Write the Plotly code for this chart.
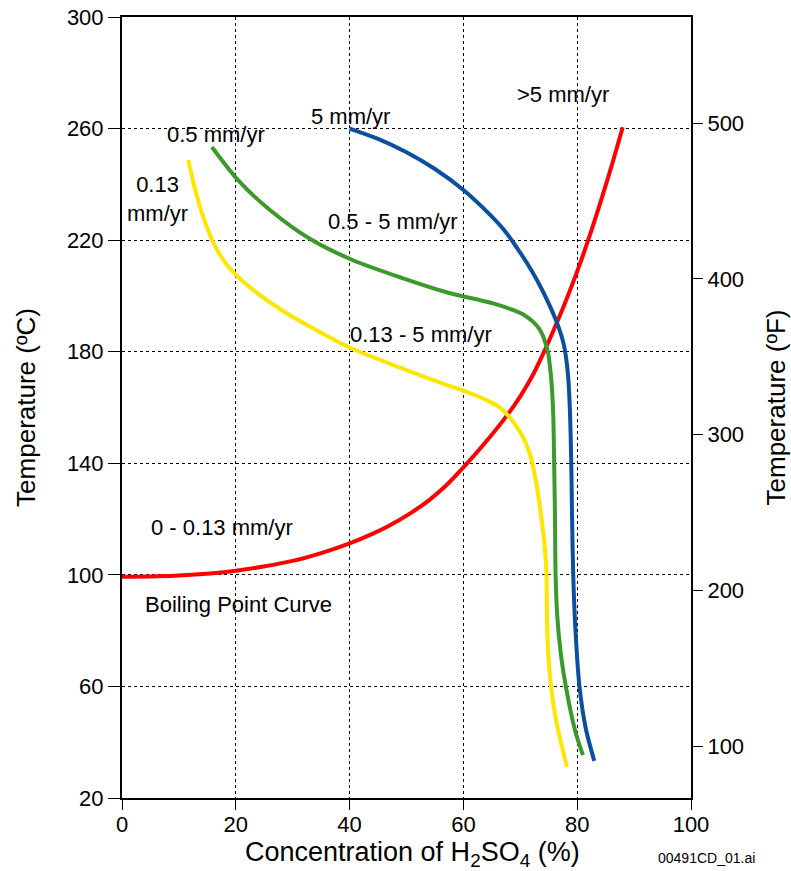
import plotly.graph_objects as go

# ---- data ----
boil_x = [0, 10, 20, 30, 35, 40, 44, 47.1, 51, 54.1, 57, 60, 64, 67.6, 70, 72.3, 74, 76.4, 78, 80, 81.9, 84, 86, 88]
boil_t = [99.3, 99.8, 101.5, 105, 107.8, 111.3, 114.7, 117.8, 122.5, 127, 132.1, 138.5, 147.8, 157, 164, 172, 179.2, 190.3, 198.2, 208.8, 219.8, 233, 246.3, 260.5]

blue_x = [40, 45, 50, 55, 60, 64, 67, 69.5, 72, 74, 75.5, 76.7, 77.6, 78.1, 78.45, 78.7, 78.85, 79.0, 79.1, 79.3, 79.7, 80.4, 81.5, 83.0]
blue_t = [260, 256.3, 251.5, 245.5, 238, 230.5, 224, 217, 209, 201.5, 195, 189, 183, 177, 170, 160, 150, 135, 120, 100, 80, 60, 45, 33.3]

green_x = [15.8, 20.4, 26, 33, 40.6, 49, 58, 62.9, 65.8, 68.8, 70.8, 72.3, 73.3, 74.0, 74.5, 74.9, 75.2, 75.5, 75.8, 75.95, 76.1, 76.2, 76.5, 77.1, 78.0, 79.6, 81.0]
green_t = [253.4, 241.5, 230.8, 220.5, 212.8, 206.6, 200.8, 198.5, 197, 194.9, 193, 190.6, 188.3, 185.6, 182.6, 179.4, 175, 168.6, 156.7, 140, 120, 100, 85, 72, 60, 44.4, 35.4]

yellow_x = [11.65, 13, 14.5, 16.2, 18.3, 20.4, 24.3, 28.3, 33, 40, 49, 54.7, 60.6, 64.1, 66.2, 67.9, 69.3, 70.5, 71.4, 72.0, 72.7, 73.2, 73.8, 74.3, 74.6, 74.68, 74.9, 75.4, 76.1, 76.9, 78.2]
yellow_t = [248.7, 237, 227, 218.5, 211.5, 206.8, 200.2, 194.6, 189, 181.5, 174.2, 169.8, 165.6, 162.6, 160.3, 157, 153.3, 149.3, 145, 141, 134, 128, 119, 110, 100, 85, 72, 60, 50, 42, 31.2]

x_ticks = [0, 20, 40, 60, 80, 100]
c_ticks = [20, 60, 100, 140, 180, 220, 260, 300]
f_ticks = [100, 200, 300, 400, 500]

labels = [
    ("5 mm/yr", 40.1, 264.4),
    ("0.5 mm/yr", 16.5, 258.0),
    ("0.13<br>mm/yr", 6.3, 234.7),
    ("0.5 - 5 mm/yr", 47.6, 226.8),
    (">5 mm/yr", 77.5, 272.3),
    ("0.13 - 5 mm/yr", 52.5, 186.0),
    ("0 - 0.13 mm/yr", 17.6, 117.1),
    ("Boiling Point Curve", 20.4, 89.5),
]

FONT = "Liberation Sans, Arial, sans-serif"
L, R, T, B = 122, 691, 17, 798

fig = go.Figure()
for xs, ts, col in [
    (boil_x, boil_t, "#FF0000"),
    (yellow_x, yellow_t, "#FFE600"),
    (green_x, green_t, "#3C9A2C"),
    (blue_x, blue_t, "#0A4FA0"),
]:
    fig.add_trace(go.Scatter(x=xs, y=ts, mode="lines",
                             line=dict(color=col, width=4, shape="spline", smoothing=0.8),
                             showlegend=False, hoverinfo="skip"))

# invisible trace to activate right axis
fig.add_trace(go.Scatter(x=[0], y=[100], yaxis="y2", mode="markers",
                         marker=dict(opacity=0), showlegend=False, hoverinfo="skip"))

for txt, x, y in labels:
    fig.add_annotation(text=txt, x=x, y=y, xref="x", yref="y", showarrow=False,
                       font=dict(size=22, color="black", family=FONT), align="center")

# x-axis title (placed as paper text so it sits below the tick labels like the reference)
fig.add_annotation(text="Concentration of H<sub>2</sub>SO<sub>4</sub> (%)",
                   x=(412 - L) / (R - L), y=-(854 - B) / (B - T),
                   xref="paper", yref="paper", xanchor="center", yanchor="middle",
                   showarrow=False, font=dict(size=27, color="black", family=FONT))

fig.add_annotation(text="00491CD_01.ai", x=(706 - L) / (R - L), y=-(858 - B) / (B - T),
                   xref="paper", yref="paper", xanchor="center", yanchor="middle",
                   showarrow=False, font=dict(size=14, color="black", family=FONT))

fig.update_layout(
    width=791, height=871,
    margin=dict(l=L, r=791 - R, t=T, b=871 - B, autoexpand=False),
    paper_bgcolor="white", plot_bgcolor="white",
    font=dict(family=FONT, color="black", size=22),
    xaxis=dict(range=[0, 100], tickvals=x_ticks, showgrid=True, gridcolor="black",
               griddash="dot", gridwidth=1, showline=True, linecolor="black", linewidth=2,
               mirror=True, ticks="outside", ticklen=10, tickwidth=1, tickcolor="black",
               tickfont=dict(size=22), zeroline=False, automargin=False,
               ticklabelstandoff=-4),
    yaxis=dict(range=[20, 300], tickvals=c_ticks, showgrid=True, gridcolor="black",
               griddash="dot", gridwidth=1, showline=True, linecolor="black", linewidth=2,
               mirror=True, ticks="outside", ticklen=12, tickwidth=1, tickcolor="black",
               tickfont=dict(size=22), zeroline=False, automargin=False,
               title=dict(text="Temperature (ºC)", font=dict(size=26), standoff=24)),
    yaxis2=dict(range=[67, 568], tickvals=f_ticks, overlaying="y", side="right",
                showgrid=False, showline=True, linecolor="black", linewidth=2,
                ticks="outside", ticklen=10, tickwidth=1, tickcolor="black",
                tickfont=dict(size=22), zeroline=False, automargin=False,
                title=dict(text="Temperature (ºF)", font=dict(size=26), standoff=24)),
)

fig.write_html("out.html")
